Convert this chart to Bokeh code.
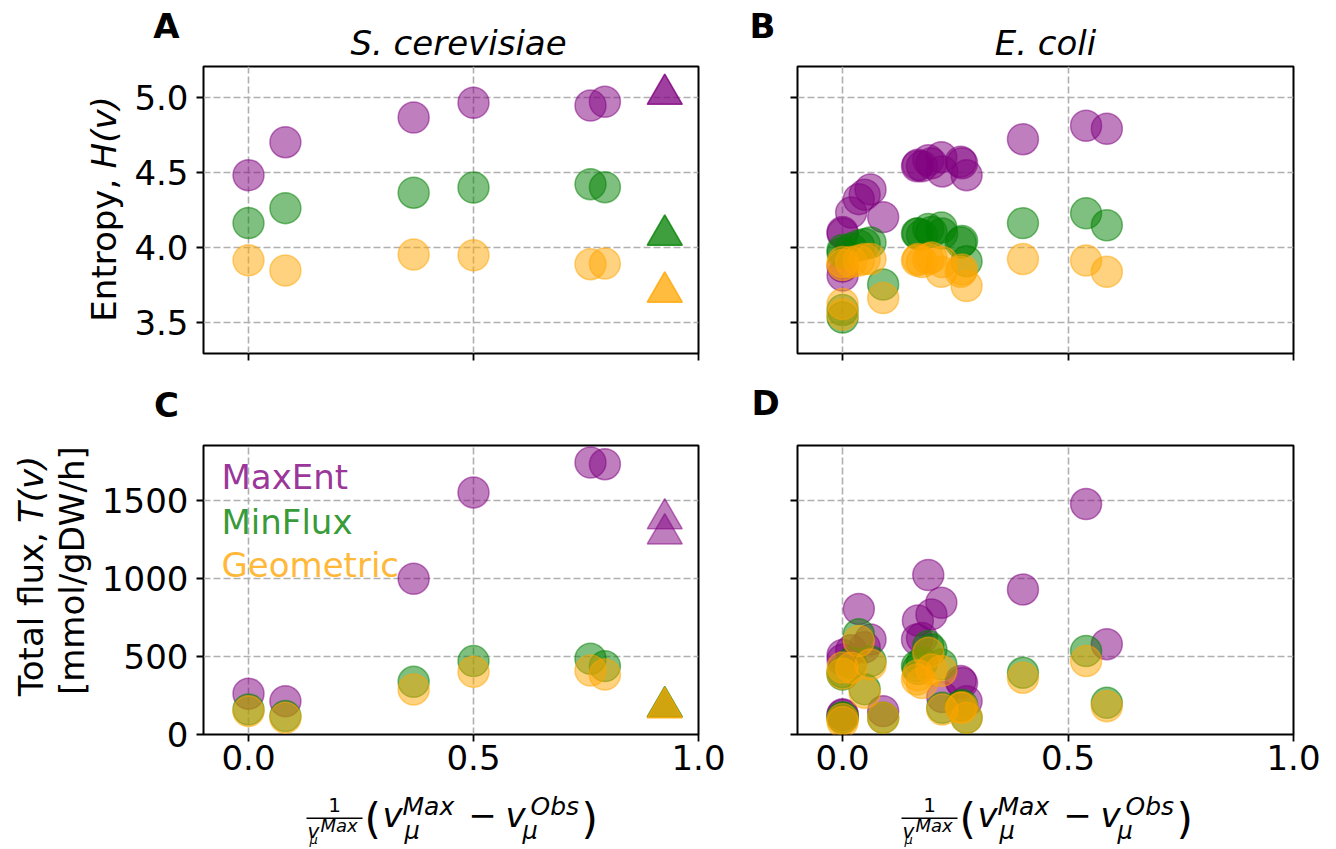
import math
from bokeh.plotting import figure
from bokeh.models import Range1d, Label, BoxAnnotation, FixedTicker, NumeralTickFormatter
from bokeh.layouts import column, row
from bokeh.embed import file_html
from bokeh.resources import INLINE

FONT = "DejaVu Sans"
PURPLE, GREEN, ORANGE = "#800080", "#008000", "#ffa500"
BASE_SHIFT = 0.35  # em: offset between requested and drawn baseline of labels

# ---------------- data ----------------
methods = ["MaxEnt", "MinFlux", "Geometric"]

# S. cerevisiae
sc_x = [0.0, 0.082, 0.367, 0.5, 0.76, 0.792]
sc_H_maxent = [4.48, 4.70, 4.865, 4.963, 4.945, 4.97]
sc_H_minflux = [4.16, 4.26, 4.363, 4.397, 4.42, 4.40]
sc_H_geom = [3.912, 3.844, 3.95, 3.945, 3.886, 3.89]
sc_T_maxent = [262, 214, 1000, 1554, 1746, 1735]
sc_T_minflux = [161, 118, 338, 471, 486, 439]
sc_T_geom = [150, 107, 289, 403, 411, 385]

sc_tri_x = [0.925, 0.925]
sc_tri_H_maxent = [5.02, 5.02]
sc_tri_H_minflux = [4.08, 4.08]
sc_tri_H_geom = [3.70, 3.70]
sc_tri_T_maxent = [1385, 1288]
sc_tri_T_minflux = [178, 178]
sc_tri_T_geom = [172, 172]

# E. coli
ec_x = [0.0, 0.0, 0.0, 0.0, 0.019, 0.036, 0.049, 0.062, 0.09, 0.165, 0.167,
        0.176, 0.19, 0.197, 0.219, 0.221, 0.262, 0.265, 0.275, 0.40, 0.54, 0.586]
ec_H_maxent = [4.10, 4.09, 3.81, 3.87, 4.23, 4.32, 4.35, 4.385, 4.20, 4.54, 4.55,
               4.54, 4.58, 4.56, 4.60, 4.505, 4.57, 4.56, 4.48, 4.72, 4.81, 4.79]
ec_H_minflux = [3.98, 3.96, 3.53, 3.58, 3.99, 4.01, 4.02, 4.03, 3.75, 4.09, 4.09,
                4.08, 4.12, 4.10, 4.13, 4.09, 4.03, 4.04, 3.905, 4.16, 4.225, 4.145]
ec_H_geom = [3.90, 3.88, 3.55, 3.62, 3.90, 3.91, 3.92, 3.92, 3.66, 3.91, 3.92,
             3.90, 3.92, 3.93, 3.835, 3.90, 3.835, 3.85, 3.74, 3.92, 3.91, 3.835]
ec_T_maxent = [130, 125, 510, 480, 540, 805, 560, 610, 150, 610, 732,
               620, 1024, 771, 846, 240, 343, 330, 214, 931, 1479, 580]
ec_T_minflux = [110, 105, 385, 400, 460, 643, 290, 471, 107, 440, 420,
                460, 568, 545, 450, 171, 182, 190, 107, 396, 536, 203]
ec_T_geom = [100, 80, 390, 430, 428, 600, 268, 450, 107, 353, 380,
             330, 525, 418, 407, 160, 171, 175, 107, 364, 471, 182]

x_ticks = [0.0, 0.5, 1.0]
H_ticks = [3.5, 4.0, 4.5, 5.0]
T_ticks = [0, 500, 1000, 1500]

X_RANGE = (-0.1, 1.0)
H_RANGE = (3.29, 5.205)
T_RANGE = (0, 1855)

# frame geometry of panel C on the page: left, top, width, height
GEOM_C = (203, 445, 495, 289)


def make_fig(width, height, bl, br, bt, bb, yr, yticks, yfmt, xlabels, ylabels):
    p = figure(width=width, height=height,
               x_range=Range1d(*X_RANGE), y_range=Range1d(*yr),
               output_backend="svg", toolbar_location=None,
               min_border_left=bl, min_border_right=br,
               min_border_top=bt, min_border_bottom=bb)
    p.background_fill_color = "white"
    p.border_fill_color = "white"
    p.outline_line_color = "black"
    p.outline_line_width = 2
    p.outline_line_alpha = 1
    for ax in (p.xaxis[0], p.yaxis[0]):
        ax.axis_line_color = None
        ax.major_tick_out = 7
        ax.major_tick_in = 0
        ax.major_tick_line_width = 1.8
        ax.major_tick_line_color = "black"
        ax.minor_tick_line_color = None
        ax.major_label_text_font = FONT
        ax.major_label_text_font_size = "34px"
        ax.major_label_text_color = "black"
    p.xaxis.ticker = FixedTicker(ticks=x_ticks)
    p.xaxis.formatter = NumeralTickFormatter(format="0.0")
    p.yaxis.ticker = FixedTicker(ticks=yticks)
    if yfmt:
        p.yaxis.formatter = NumeralTickFormatter(format=yfmt)
    p.xaxis.major_label_standoff = 3
    p.yaxis.major_label_standoff = 8
    if not xlabels:
        p.xaxis.major_label_text_color = None
    if not ylabels:
        p.yaxis.major_label_text_color = None
    p.grid.grid_line_color = "#b0b0b0"
    p.grid.grid_line_dash = "7 3"
    p.grid.grid_line_width = 1.6
    return p


def strip(x0, x1, y0, y1):
    """Blank figure whose frame covers a page rectangle; data units = page pixels."""
    s = figure(width=x1 - x0, height=y1 - y0,
               x_range=Range1d(x0, x1), y_range=Range1d(y1, y0),
               output_backend="svg", toolbar_location=None,
               x_axis_location=None, y_axis_location=None, min_border=0)
    s.min_border_left = s.min_border_right = s.min_border_top = s.min_border_bottom = 0
    s.grid.visible = False
    s.outline_line_color = None
    s.background_fill_color = "white"
    s.border_fill_color = "white"
    return s


def page_txt(p, px, py, text, size, style="normal", align="left", angle=0.0,
             color="black", alpha=1.0, conv=None):
    # px, py: wanted page position of the text baseline anchor
    if angle == 0.0:
        py = py - BASE_SHIFT * size
    else:
        px = px - BASE_SHIFT * size
    x, y = (px, py) if conv is None else conv(px, py)
    p.add_layout(Label(x=x, y=y, text=text, text_font=FONT,
                       text_font_size=f"{size}px", text_font_style=style,
                       text_align=align, text_baseline="alphabetic",
                       angle=angle, text_color=color, text_alpha=alpha))


def conv_C(px, py):
    L, T, W, H = GEOM_C
    x = X_RANGE[0] + (px - L) / W * (X_RANGE[1] - X_RANGE[0])
    y = T_RANGE[1] - (py - T) / H * (T_RANGE[1] - T_RANGE[0])
    return x, y


def add_points(p, x, ys, marker, size):
    for yv, c in zip(ys, [PURPLE, GREEN, ORANGE]):
        p.scatter(x, yv, marker=marker, size=size, fill_color=c, fill_alpha=0.5,
                  line_color=c, line_alpha=0.5, line_width=1.5)


def add_xlabel(s, cx):
    pieces = [
        ("1", -116, 811, 20, "normal", "center"),
        ("v", -143, 837, 20, "italic", "left"),
        ("Max", -130, 831, 18, "italic", "left"),
        ("\u03bc", -141, 844, 13, "italic", "left"),
        ("(", -86, 834, 42, "normal", "left"),
        ("v", -68, 826, 34, "italic", "left"),
        ("Max", -48, 815, 25, "italic", "left"),
        ("\u03bc", -46, 839, 24, "italic", "left"),
        ("\u2212", 32, 826, 34, "normal", "center"),
        ("v", 55, 826, 34, "italic", "left"),
        ("Obs", 80, 815, 25, "italic", "left"),
        ("\u03bc", 72, 839, 24, "italic", "left"),
        (")", 131, 834, 42, "normal", "left"),
    ]
    for t, dx, py, sz, st, al in pieces:
        page_txt(s, cx + dx, py, t, sz, style=st, align=al)
    s.add_layout(BoxAnnotation(left=cx - 144, right=cx - 88, top=817.0, bottom=818.5,
                               fill_color="black", fill_alpha=1.0, line_color=None))


# ---------------- layout pieces (page pixels) ----------------
# rows: top strip 0-62, row1 62-363, mid strip 363-441, row2 441-785, bottom strip 785-847
top = strip(0, 1328, 0, 62)
left1 = strip(0, 128, 62, 363)
mid = strip(0, 1328, 363, 441)
left2 = strip(0, 94, 441, 785)
bottom = strip(0, 1328, 785, 847)

pA = make_fig(622, 301, 75, 52, 4, 10, H_RANGE, H_ticks, "0.0", False, True)
pB = make_fig(578, 301, 47, 35, 4, 10, H_RANGE, H_ticks, "0.0", False, False)
pC = make_fig(656, 344, 109, 52, 4, 51, T_RANGE, T_ticks, None, True, True)
pD = make_fig(578, 344, 47, 35, 4, 51, T_RANGE, T_ticks, None, True, False)

add_points(pA, sc_x, [sc_H_maxent, sc_H_minflux, sc_H_geom], "circle", 31)
add_points(pA, sc_tri_x, [sc_tri_H_maxent, sc_tri_H_minflux, sc_tri_H_geom], "triangle", 35)
add_points(pB, ec_x, [ec_H_maxent, ec_H_minflux, ec_H_geom], "circle", 31)
add_points(pC, sc_x, [sc_T_maxent, sc_T_minflux, sc_T_geom], "circle", 31)
add_points(pC, sc_tri_x, [sc_tri_T_maxent, sc_tri_T_minflux, sc_tri_T_geom], "triangle", 35)
add_points(pD, ec_x, [ec_T_maxent, ec_T_minflux, ec_T_geom], "circle", 31)

# panel letters and titles
page_txt(top, 166, 37, "A", 34, style="bold", align="center")
page_txt(top, 762, 37, "B", 34, style="bold", align="center")
page_txt(mid, 166, 416, "C", 34, style="bold", align="center")
page_txt(mid, 765, 414, "D", 34, style="bold", align="center")
page_txt(top, 458, 54, "S. cerevisiae", 34, style="italic", align="center")
page_txt(top, 1045, 54, "E. coli", 34, style="italic", align="center")

# y labels (rotated; text runs upward)
half = math.pi / 2
page_txt(left1, 115, 179.7, "Entropy,", 34, align="right", angle=half)
page_txt(left1, 115, 168.9, "H(v)", 34, style="italic", angle=half)
page_txt(left2, 42, 544.1, "Total flux,", 34, align="right", angle=half)
page_txt(left2, 42, 533.3, "T(v)", 34, style="italic", angle=half)
page_txt(left2, 83, 590, "[mmol/gDW/h]", 34, align="center", angle=half)

# legend texts inside panel C
for name, c, py in zip(methods, [PURPLE, GREEN, ORANGE], [488, 533, 576]):
    page_txt(pC, 221, py, name, 34, color=c, alpha=0.8, conv=conv_C)

# x labels
add_xlabel(bottom, 450)
add_xlabel(bottom, 1045)

layout = column(top, row(left1, pA, pB), mid, row(left2, pC, pD), bottom)
open("out.html", "w").write(file_html(layout, INLINE))
